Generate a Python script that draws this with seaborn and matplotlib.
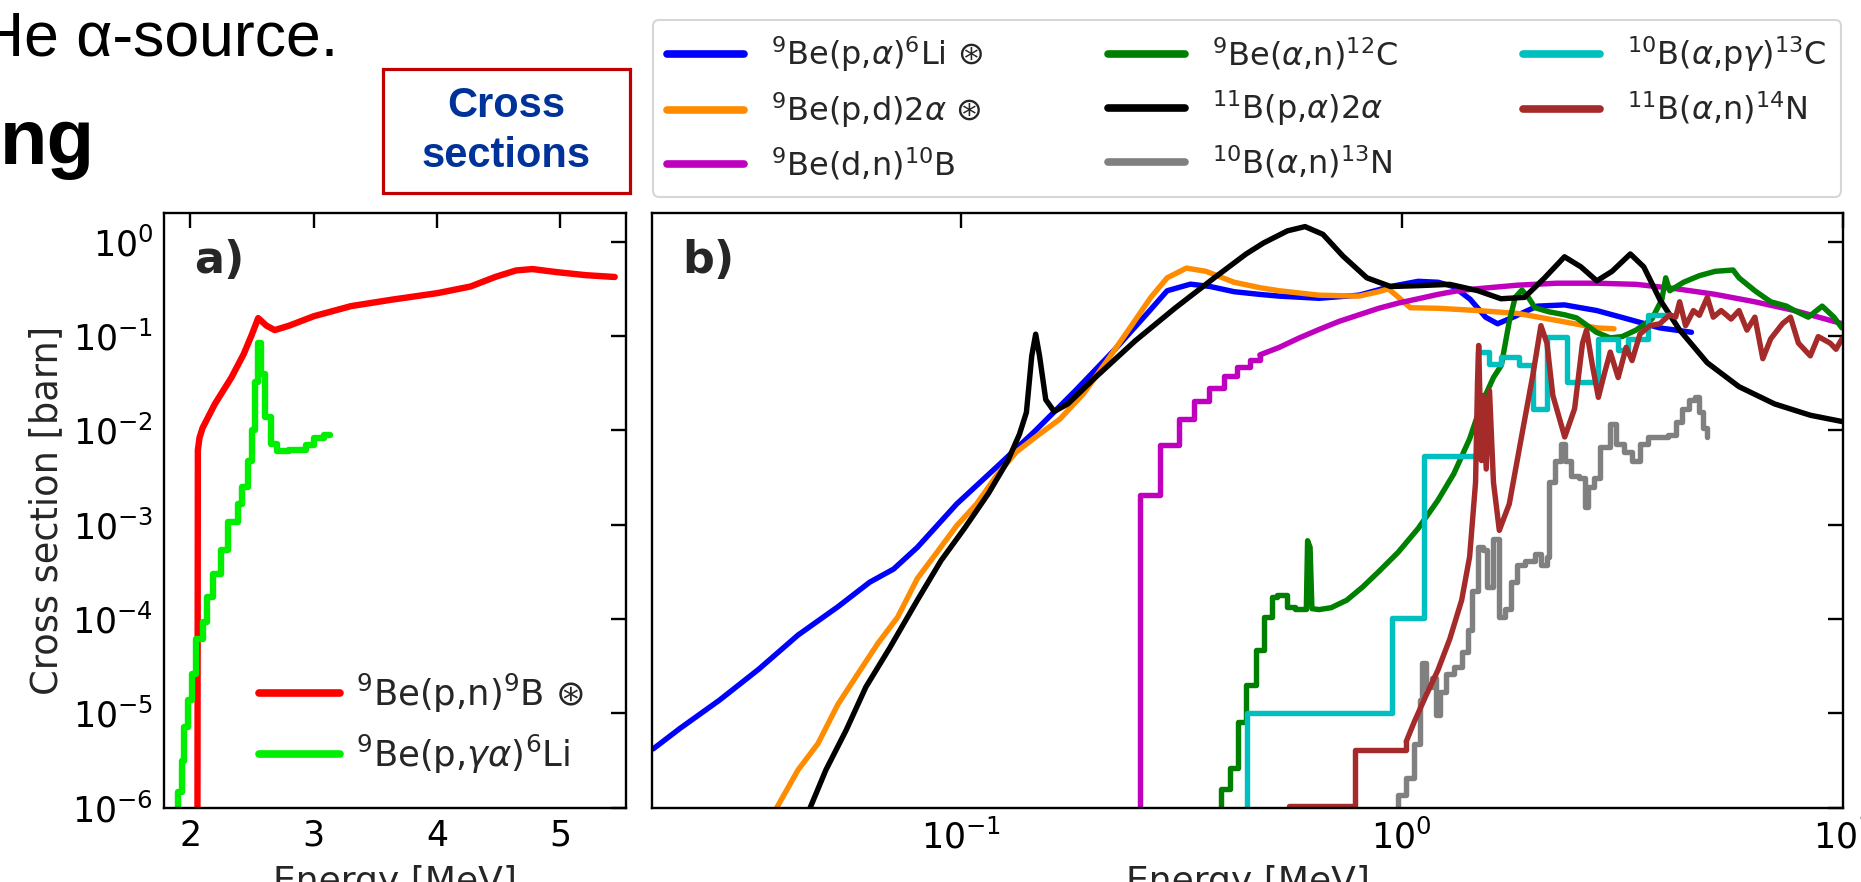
import numpy as np
import pandas as pd
import matplotlib
matplotlib.use("Agg")
import matplotlib.pyplot as plt
from matplotlib.ticker import LogLocator, NullFormatter, FixedLocator
from matplotlib.patches import Rectangle
from matplotlib.lines import Line2D
import seaborn as sns

# ---------------- data (energies in MeV, cross sections as log10(barn)) -------------
# panel a
be9_pn_E = [2.058, 2.062, 2.075, 2.10, 2.20, 2.334, 2.434, 2.501, 2.551, 2.618, 2.685, 2.802,
            3.002, 3.303, 3.637, 4.005, 4.272, 4.472, 4.640, 4.773, 4.974, 5.208, 5.441]
be9_pn_log = [-7.0, -2.21, -2.08, -1.975, -1.72, -1.44, -1.19, -0.98, -0.81, -0.89, -0.937, -0.89,
              -0.79, -0.683, -0.614, -0.545, -0.475, -0.374, -0.305, -0.29, -0.323, -0.355, -0.374]

be9_pga_E = [1.90, 1.90, 1.933, 1.950, 1.983, 2.017, 2.050, 2.100, 2.134, 2.184, 2.251, 2.307, 2.384,
             2.418, 2.468, 2.501, 2.528, 2.551, 2.575, 2.608, 2.652, 2.702, 2.802, 2.936, 3.002,
             3.086, 3.136]
be9_pga_log = [-7.0, -5.83, -5.5, -5.14, -4.86, -4.58, -4.21, -4.03, -3.77, -3.52, -3.27, -2.97, -2.78,
               -2.6, -2.32, -2.0, -1.49, -1.075, -1.40, -1.86, -2.14, -2.22, -2.21, -2.16, -2.08,
               -2.05, -2.05]

# panel b
be9_pa_E = [0.0201, 0.0231, 0.0284, 0.0349, 0.0428, 0.0527, 0.0622, 0.0705, 0.0798, 0.098, 0.1206,
            0.148, 0.182, 0.224, 0.265, 0.294, 0.332, 0.368, 0.417, 0.48, 0.528, 0.65, 0.80, 0.944,
            1.09, 1.21, 1.31, 1.43, 1.55, 1.65, 1.79, 2.03, 2.34, 2.77, 3.26, 3.85, 4.54]
be9_pa_log = [-5.376, -5.16, -4.86, -4.53, -4.17, -3.87, -3.61, -3.47, -3.24, -2.78, -2.39,
              -2.0, -1.58, -1.14, -0.76, -0.52, -0.45, -0.475, -0.53, -0.56, -0.577, -0.60, -0.567, -0.475,
              -0.42, -0.43, -0.475, -0.61, -0.80, -0.87, -0.80, -0.683, -0.67, -0.73, -0.82, -0.914, -0.96]

be9_pd_E = [0.037, 0.0383, 0.0428, 0.0475, 0.0527, 0.0585, 0.0649, 0.072, 0.0798, 0.0885, 0.098,
            0.1087, 0.1206, 0.1337, 0.148, 0.168, 0.19, 0.215, 0.244, 0.27, 0.294, 0.325, 0.36,
            0.417, 0.48, 0.528, 0.65, 0.80, 0.887, 0.933, 0.984, 1.046, 1.21, 1.49, 1.83, 2.25,
            2.77, 3.03]
be9_pd_log = [-6.2, -6.0, -5.6, -5.32, -4.905, -4.58, -4.26, -3.98, -3.57, -3.29, -3.01,
              -2.78, -2.48, -2.23, -2.07, -1.88, -1.61, -1.26, -0.89, -0.59, -0.383, -0.28, -0.314,
              -0.43, -0.49, -0.52, -0.567, -0.577, -0.53, -0.50, -0.59, -0.70, -0.706, -0.73, -0.76, -0.835,
              -0.914, -0.923]

be9_dn_step_E = [0.2547, 0.2547, 0.2827, 0.312, 0.3376, 0.366, 0.396, 0.424, 0.453, 0.477]
be9_dn_step_log = [-7.0, -2.69, -2.16, -1.88, -1.685, -1.546, -1.42, -1.33, -1.25, -1.2]
be9_dn_E = [0.477, 0.528, 0.586, 0.65, 0.721, 0.80, 0.887, 0.984, 1.09, 1.21, 1.34, 1.49, 1.83,
            2.25, 2.77, 3.40, 4.18, 5.14, 6.32, 7.78, 9.96]
be9_dn_log = [-1.2, -1.12, -1.02, -0.93, -0.845, -0.775, -0.706, -0.65, -0.605, -0.558, -0.52, -0.498,
              -0.461, -0.44, -0.44, -0.452, -0.498, -0.558, -0.637, -0.73, -0.868]

be9_an_step_E = [0.390, 0.390, 0.4086, 0.4257, 0.443, 0.467, 0.487, 0.507, 0.523, 0.551, 0.574, 0.608]
be9_an_step_log = [-7.0, -5.8, -5.575, -5.09, -4.70, -4.33, -3.98, -3.77, -3.75, -3.87, -3.89, -3.89]
be9_an_E = [0.608, 0.612, 0.620, 0.626, 0.650, 0.692, 0.751, 0.816, 0.886, 0.983, 1.090, 1.209,
            1.313, 1.426, 1.517, 1.615, 1.683, 1.754, 1.809, 1.874, 1.937, 2.006, 2.157, 2.343,
            2.493, 2.598, 2.764, 2.972, 3.162, 3.400, 3.693, 3.889, 3.970, 4.053, 4.357, 4.732,
            5.140, 5.641, 5.819, 6.323, 6.866, 7.458, 7.773, 8.356, 8.984, 9.554, 9.96]
be9_an_log = [-3.89, -3.17, -3.24, -3.89, -3.90, -3.88, -3.80, -3.66, -3.50, -3.29, -3.04, -2.74,
              -2.46, -2.09, -1.72, -1.44, -1.31, -0.845, -0.59, -0.512, -0.59, -0.70, -0.743, -0.775,
              -0.808, -0.868, -0.96, -1.02, -1.006, -0.937, -0.82, -0.614, -0.383, -0.52, -0.43, -0.36,
              -0.314, -0.30, -0.383, -0.52, -0.637, -0.683, -0.73, -0.80, -0.683, -0.80, -0.914]

b11_pa_E = [0.0445, 0.0456, 0.0495, 0.055, 0.061, 0.069, 0.0798, 0.0903, 0.102, 0.1156, 0.128,
            0.136, 0.141, 0.145, 0.148, 0.151, 0.156, 0.163, 0.175, 0.202, 0.249, 0.306, 0.376,
            0.444, 0.486, 0.551, 0.604, 0.663, 0.736, 0.834, 0.944, 1.09, 1.285, 1.49, 1.68, 1.90,
            2.11, 2.34, 2.55, 2.77, 3.0, 3.30, 3.54, 3.85, 4.27, 4.93, 5.82, 7.01, 8.45, 9.96]
b11_pa_log = [-6.15, -6.0, -5.6, -5.18, -4.72, -4.31, -3.80, -3.38, -3.04, -2.67, -2.32,
              -2.04, -1.81, -1.21, -0.98, -1.21, -1.675, -1.80, -1.72, -1.44, -1.05, -0.706, -0.383,
              -0.13, -0.014, 0.115, 0.16, 0.078, -0.152, -0.383, -0.475, -0.466, -0.452, -0.52, -0.605,
              -0.59, -0.383, -0.16, -0.267, -0.415, -0.314, -0.13, -0.267, -0.614, -0.937, -1.283,
              -1.537, -1.72, -1.84, -1.906]

b10_an_E = [0.943, 0.983, 1.024, 1.068, 1.101, 1.113, 1.136, 1.172, 1.196, 1.221, 1.260, 1.313,
            1.368, 1.411, 1.441, 1.486, 1.533, 1.565, 1.615, 1.665, 1.718, 1.772, 1.828, 1.905,
            2.006, 2.069, 2.135, 2.157, 2.225, 2.295, 2.343, 2.416, 2.518, 2.598, 2.652, 2.736,
            2.822, 2.972, 3.066, 3.194, 3.330, 3.470, 3.616, 3.848, 4.011, 4.181, 4.312, 4.493,
            4.635, 4.732, 4.831, 4.932]
b10_an_log = [-6.1, -5.87, -5.69, -5.32, -4.86, -4.47, -4.72, -4.63, -5.02, -4.77, -4.58, -4.51,
              -4.35, -4.12, -3.70, -3.24, -3.27, -3.66, -3.15, -3.98, -3.89, -3.61, -3.43, -3.38,
              -3.31, -3.43, -3.34, -2.55, -2.32, -2.14, -2.32, -2.48, -2.51, -2.81, -2.60, -2.51,
              -2.18, -1.93, -2.14, -2.23, -2.32, -2.14, -2.07, -2.07, -2.05, -1.91, -1.77, -1.675,
              -1.65, -1.81, -1.975, -2.07]

b10_apg_E = [0.446, 0.446, 0.953, 1.124, 1.486, 1.581, 1.683, 1.847, 1.986, 2.134, 2.367, 2.79,
             3.10, 3.26, 3.62, 4.09]
b10_apg_log = [-7.0, -5.0, -3.99, -2.275, -1.17, -1.30, -1.22, -1.31, -1.77, -1.006, -1.49, -1.03,
               -1.15, -1.03, -0.78, -0.78]

b11_an_step_E = [0.5566, 0.783, 1.024]
b11_an_step_log = [-5.98, -5.39, -5.30]
b11_an_E = [1.024, 1.068, 1.136, 1.209, 1.286, 1.368, 1.426, 1.471, 1.486, 1.495, 1.517, 1.533,
            1.555, 1.582, 1.615, 1.665, 1.754, 1.866, 1.986, 2.069, 2.135, 2.202, 2.343, 2.467,
            2.571, 2.625, 2.707, 2.793, 2.881, 2.972, 3.097, 3.228, 3.330, 3.470, 3.654, 3.848,
            4.053, 4.181, 4.269, 4.403, 4.587, 4.732, 4.932, 5.088, 5.302, 5.584, 5.819, 6.065,
            6.323, 6.590, 6.866, 7.307, 7.614, 7.936, 8.444, 8.800, 9.363, 9.658, 9.96]
b11_an_log = [-5.30, -5.09, -4.81, -4.54, -4.21, -3.80, -3.34, -2.55, -1.49, -1.10, -2.32, -1.63,
              -2.41, -1.58, -2.55, -3.06, -2.78, -2.09, -1.40, -0.89, -1.075, -1.63, -2.07, -1.77,
              -1.075, -0.937, -1.31, -1.65, -1.40, -1.17, -1.44, -1.12, -1.26, -0.98, -0.89, -0.87,
              -0.775, -0.80, -0.637, -0.89, -0.73, -0.78, -0.59, -0.80, -0.73, -0.82, -0.73, -0.937,
              -0.80, -1.24, -1.03, -0.868, -0.80, -1.075, -1.21, -1.006, -1.075, -1.14, -1.03]

ytick_labels_a = [r"$10^{0}$", r"$10^{-1}$", r"$10^{-2}$", r"$10^{-3}$", r"$10^{-4}$", r"$10^{-5}$", r"$10^{-6}$"]
xticks_a = [2, 3, 4, 5]

labels_a = [r"$^{9}$Be(p,n)$^{9}$B ⊛", r"$^{9}$Be(p,$\gamma\alpha$)$^{6}$Li"]
labels_b = [r"$^{9}$Be(p,$\alpha$)$^{6}$Li ⊛", r"$^{9}$Be(p,d)2$\alpha$ ⊛", r"$^{9}$Be(d,n)$^{10}$B",
            r"$^{9}$Be($\alpha$,n)$^{12}$C", r"$^{11}$B(p,$\alpha$)2$\alpha$", r"$^{10}$B($\alpha$,n)$^{13}$N",
            r"$^{10}$B($\alpha$,p$\gamma$)$^{13}$C", r"$^{11}$B($\alpha$,n)$^{14}$N"]
colors_b = ["#0000ff", "#ff8c00", "#bf00bf", "#008000", "#000000", "#808080", "#00bfbf", "#a52a2a"]

# ---------------- style ----------------
sns.set_theme(style="white")
plt.rcParams["font.family"] = ["DejaVu Sans"]
plt.rcParams["mathtext.fontset"] = "dejavusans"

W, H = 1861.0, 882.0
fig = plt.figure(figsize=(W / 100, H / 100), dpi=100)
fig.patch.set_facecolor("white")
axa = fig.add_axes([164.3 / W, 1 - 807.7 / H, 461.4 / W, 594.4 / H])
axb = fig.add_axes([652.3 / W, 1 - 807.7 / H, 1190.4 / W, 594.4 / H])


def draw(ax, E, logs, color, lw, steps=False):
    df = pd.DataFrame({"E": np.asarray(E, float), "s": 10.0 ** np.asarray(logs, float)})
    sns.lineplot(data=df, x="E", y="s", ax=ax, color=color, lw=lw, sort=False,
                 estimator=None, legend=False,
                 drawstyle="steps-post" if steps else "default")


for ax in (axa, axb):
    ax.set_yscale("log")
    ax.set_ylim(1e-6, 2)
axb.set_xscale("log")
axb.set_xlim(0.02, 10)
axa.set_xlim(1.79, 5.53)

# panel a
LWA = 4.6
draw(axa, be9_pn_E, be9_pn_log, "#ff0000", LWA)
draw(axa, be9_pga_E, be9_pga_log, "#00ee00", LWA, steps=True)

# panel b
LWB = 3.9
draw(axb, be9_pa_E, be9_pa_log, colors_b[0], LWB)
draw(axb, be9_pd_E, be9_pd_log, colors_b[1], LWB)
draw(axb, be9_dn_step_E, be9_dn_step_log, colors_b[2], LWB, steps=True)
draw(axb, be9_dn_E, be9_dn_log, colors_b[2], LWB)
draw(axb, be9_an_step_E, be9_an_step_log, colors_b[3], LWB, steps=True)
draw(axb, be9_an_E, be9_an_log, colors_b[3], LWB)
draw(axb, b11_pa_E, b11_pa_log, colors_b[4], LWB)
draw(axb, b10_an_E, b10_an_log, colors_b[5], LWB, steps=True)
draw(axb, b10_apg_E, b10_apg_log, colors_b[6], LWB, steps=True)
draw(axb, b11_an_step_E, b11_an_step_log, colors_b[7], LWB, steps=True)
draw(axb, b11_an_E, b11_an_log, colors_b[7], LWB)

# ---------------- axes styling ----------------
for ax in (axa, axb):
    ax.yaxis.set_major_locator(LogLocator(base=10, numticks=20))
    ax.yaxis.set_minor_locator(LogLocator(base=10, subs=np.arange(2, 10) * 1.0, numticks=100))
    ax.tick_params(which="major", direction="in", length=11, width=1.7, top=True, right=True,
                   labelsize=25, pad=8, colors="black")
    ax.tick_params(which="minor", direction="in", length=5.5, width=1.3, top=False, right=False)
    for s in ax.spines.values():
        s.set_linewidth(1.7)
        s.set_color("black")
        s.set_visible(True)
    ax.set_facecolor("white")

axa.yaxis.set_major_locator(FixedLocator([1, 1e-1, 1e-2, 1e-3, 1e-4, 1e-5, 1e-6]))
axa.set_yticklabels(ytick_labels_a)
axa.set_xticks(xticks_a)
axa.set_xticklabels([str(v) for v in xticks_a])
axb.xaxis.set_major_locator(LogLocator(base=10, numticks=20))
axb.xaxis.set_minor_locator(LogLocator(base=10, subs=np.arange(2, 10) * 1.0, numticks=100))
axb.xaxis.set_minor_formatter(NullFormatter())
axb.tick_params(labelleft=False)

axa.set_ylabel("Cross section [barn]", fontsize=26.5)
axa.yaxis.set_label_coords(-0.215, 0.5)
axb.set_ylabel("")
for ax in (axa, axb):
    ax.set_xlabel("Energy [MeV]", fontsize=26)
    ax.xaxis.set_label_coords(0.5, -0.097)

axa.text(0.064, 0.921, "a)", transform=axa.transAxes, fontsize=32, fontweight="bold",
         va="center", ha="left")
axb.text(0.025, 0.921, "b)", transform=axb.transAxes, fontsize=32, fontweight="bold",
         va="center", ha="left")

# legends
ha = [Line2D([], [], color="#ff0000", lw=5.5), Line2D([], [], color="#00ee00", lw=5.5)]
axa.legend(ha, labels_a, loc="lower right", bbox_to_anchor=(0.94, 0.03), frameon=False,
           fontsize=25.5, handlelength=2.3, handletextpad=0.45, labelspacing=0.5, borderaxespad=0)

hb = [Line2D([], [], color=c, lw=5.5) for c in colors_b]
leg = fig.legend(hb, labels_b, loc="upper left",
                 bbox_to_anchor=(653 / W, 1 - 200 / H, (1841 - 653) / W, 180 / H),
                 mode="expand", ncol=3, fontsize=23, handlelength=2.4, handletextpad=0.85,
                 labelspacing=0.5, borderpad=0.45, borderaxespad=0, frameon=True, fancybox=True)
leg.get_frame().set_edgecolor("0.8")
leg.get_frame().set_linewidth(1.5)

# slide decorations
fig.text(338 / W, 1 - 55 / H, "He α-source.", ha="right", va="baseline", fontsize=45,
         family=["Liberation Sans", "DejaVu Sans"], color="black")
fig.text(95 / W, 1 - 164 / H, "ng", ha="right", va="baseline", fontsize=56, fontweight="bold",
         family=["Liberation Sans", "DejaVu Sans"], color="black")
fig.patches.append(Rectangle((383 / W, 1 - 193 / H), 247 / W, 124 / H, transform=fig.transFigure,
                             fill=False, edgecolor="#c00000", lw=2.3))
fig.text(506.5 / W, 1 - 131 / H, "Cross\nsections", ha="center", va="center", fontsize=30,
         fontweight="bold", family=["Liberation Sans", "DejaVu Sans"], color="#003399",
         linespacing=1.3)

fig.savefig("out.png", dpi=100)
